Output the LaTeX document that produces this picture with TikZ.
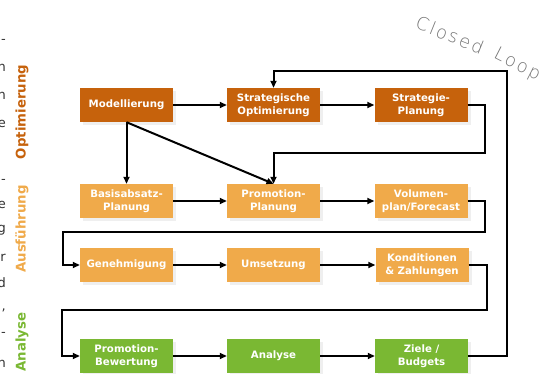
\documentclass[tikz,border=0pt]{standalone}
\usepackage{fontspec}
\setmainfont{DejaVu Sans}
\newfontfamily\thinfont[LetterSpace=12]{DejaVu Sans ExtraLight}
\usetikzlibrary{arrows.meta,shadows}
\definecolor{dko}{HTML}{C6620C}
\definecolor{lto}{HTML}{F0AA4A}
\definecolor{grn}{HTML}{7AB833}
\begin{document}
\begin{tikzpicture}[x=1pt,y=-1pt,
  box/.style={minimum width=93pt,minimum height=34pt,inner sep=0pt,align=center,
    text=white,font=\bfseries\fontsize{10.2}{13.5}\selectfont,
    drop shadow={shadow xshift=3pt,shadow yshift=-3pt,fill=black!12}},
  dk/.style={box,fill=dko},
  lt/.style={box,fill=lto},
  gr/.style={box,fill=grn},
  conn/.style={line width=2pt,-{Triangle[length=7pt,width=6pt]}},
  side/.style={rotate=90,font=\bfseries\fontsize{13.3}{13}\selectfont,inner sep=0pt},
  frag/.style={anchor=base east,inner sep=0pt,text=black!80,font=\fontsize{13}{13}\selectfont},
  loopt/.style={text=black!55,font=\thinfont\fontsize{18}{18}\selectfont,inner sep=0pt}]
\useasboundingbox (0,0) rectangle (544,374);
\fill[white] (0,0) rectangle (544,374);

% left text fragments
\node[frag] (f1) at (6,44) {-};
\node[frag] (f2) at (6,72) {n};
\node[frag] (f3) at (6,100) {n};
\node[frag] (f4) at (6,128) {e};
\node[frag] (f5) at (6,184) {-};
\node[frag] (f6) at (6,209) {e};
\node[frag] (f7) at (6,233) {g};
\node[frag] (f8) at (6,262) {r};
\node[frag] (f9) at (6,288) {d};
\node[frag] (f10) at (6,311) {,};
\node[frag] (f11) at (6,337) {-};
\node[frag] (f12) at (6,367) {n};

% side labels
\node[side,text=dko] (lopt) at (22,112) {Optimierung};
\node[side,text=lto] (laus) at (22,229) {Ausführung};
\node[side,text=grn] (lana) at (22,342) {Analyse};

% boxes
\node[dk] (mod) at (126.5,105) {Modellierung};
\node[dk] (sto) at (273.5,105) {Strategische\\Optimierung};
\node[dk] (stp) at (421,105) {Strategie-\\Planung};
\node[lt] (bas) at (126.5,201) {Basisabsatz-\\Planung};
\node[lt] (prp) at (273.5,201) {Promotion-\\Planung};
\node[lt] (vol) at (421,201) {Volumen-\\plan/Forecast};
\node[lt] (gen) at (126.5,265) {Genehmigung};
\node[lt] (ums) at (273.5,265) {Umsetzung};
\node[lt] (kon) at (422,265) {Konditionen\\\& Zahlungen};
\node[gr] (prb) at (126.5,356) {Promotion-\\Bewertung};
\node[gr] (ana) at (273.5,356) {Analyse};
\node[gr] (zie) at (421.5,356) {Ziele /\\Budgets};

% closed loop label
\node[loopt,rotate=-22] (cl1) at (450,35) {Closed};
\node[loopt,rotate=-27] (cl2) at (517,65) {Loop};

% connectors
\draw[conn] (mod) -- (sto);
\draw[conn] (sto) -- (stp);
\draw[conn] (mod.south) -- (bas.north);
\draw[conn] (mod.south) -- (prp.north);
\draw[conn] (stp.east) -- (485,105) -- (485,153) -- (273.5,153) -- (prp.north);
\draw[conn] (bas) -- (prp);
\draw[conn] (prp) -- (vol);
\draw[conn] (vol.east) -- (485,201) -- (485,232) -- (63,232) -- (63,265) -- (gen.west);
\draw[conn] (gen) -- (ums);
\draw[conn] (ums) -- (kon);
\draw[conn] (kon.east) -- (487,265) -- (487,310) -- (62,310) -- (62,356) -- (prb.west);
\draw[conn] (prb) -- (ana);
\draw[conn] (ana) -- (zie);
\draw[conn] (zie.east) -- (507,356) -- (507,71) -- (273.5,71) -- (sto.north);
\end{tikzpicture}
\end{document}
